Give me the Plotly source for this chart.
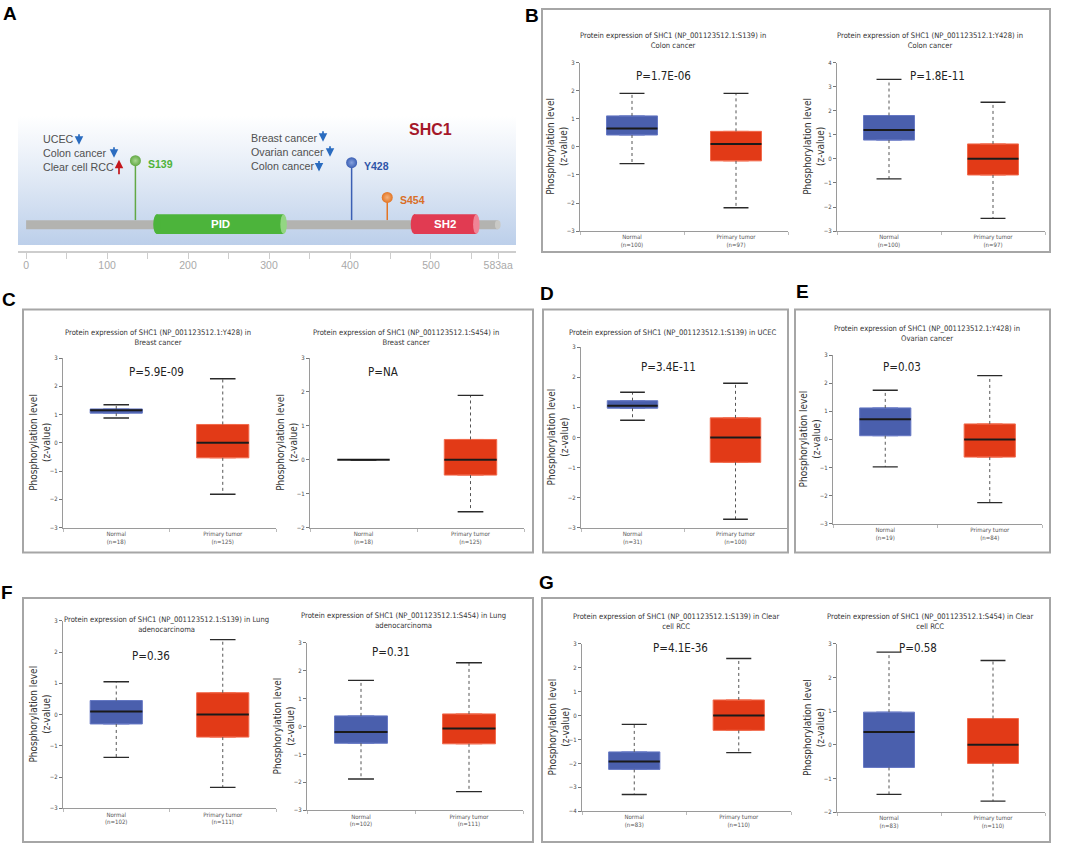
import plotly.graph_objects as go

W, H = 1072, 850

# ------------------------------------------------------------------ data
CATEGORIES = ["Normal", "Primary tumor"]

# panel A : SHC1 protein map
PROTEIN_NAME = "SHC1"
PROTEIN_LENGTH = 583
RULER_TICKS = [0, 50, 100, 150, 200, 250, 300, 350, 400, 450, 500, 550, 583]
RULER_LABELS = ["0", "", "100", "", "200", "", "300", "", "400", "", "500", "", "583aa"]
DOMAIN_NAMES = ["PID", "SH2"]
DOMAIN_START = [157, 475]
DOMAIN_END = [322, 560]
SITE_NAMES = ["S139", "Y428", "S454"]
SITE_POS = [135, 402, 446]
S139_CANCERS = ["UCEC", "Colon cancer", "Clear cell RCC"]
S139_DIRECTION = ["down", "down", "up"]
Y428_CANCERS = ["Breast cancer", "Ovarian cancer", "Colon cancer"]
Y428_DIRECTION = ["down", "down", "down"]

# box statistics: [lower whisker, Q1, median, Q3, upper whisker]
B1_TITLE = "Protein expression of SHC1 (NP_001123512.1:S139) in<br>Colon cancer"
B1_P = "P=1.7E-06"
B1_N = [100, 97]
B1_NORMAL = [-0.6, 0.42, 0.65, 1.1, 1.9]
B1_TUMOR = [-2.17, -0.5, 0.1, 0.55, 1.9]
B1_YRANGE = [-3, 3]

B2_TITLE = "Protein expression of SHC1 (NP_001123512.1:Y428) in<br>Colon cancer"
B2_P = "P=1.8E-11"
B2_N = [100, 97]
B2_NORMAL = [-0.83, 0.78, 1.2, 1.8, 3.3]
B2_TUMOR = [-2.47, -0.67, 0.0, 0.62, 2.35]
B2_YRANGE = [-3, 4]

C1_TITLE = "Protein expression of SHC1 (NP_001123512.1:Y428) in<br>Breast cancer"
C1_P = "P=5.9E-09"
C1_N = [18, 125]
C1_NORMAL = [0.88, 1.05, 1.15, 1.2, 1.35]
C1_TUMOR = [-1.82, -0.53, 0.0, 0.65, 2.27]
C1_YRANGE = [-3, 3]

C2_TITLE = "Protein expression of SHC1 (NP_001123512.1:S454) in<br>Breast cancer"
C2_P = "P=NA"
C2_N = [18, 125]
C2_NORMAL = [0.0, 0.0, 0.0, 0.0, 0.0]
C2_TUMOR = [-1.53, -0.45, 0.0, 0.6, 1.9]
C2_YRANGE = [-2, 3]

D_TITLE = "Protein expression of SHC1 (NP_001123512.1:S139) in UCEC"
D_P = "P=3.4E-11"
D_N = [31, 100]
D_NORMAL = [0.57, 0.97, 1.05, 1.22, 1.5]
D_TUMOR = [-2.72, -0.83, 0.0, 0.65, 1.8]
D_YRANGE = [-3, 3]

E_TITLE = "Protein expression of SHC1 (NP_001123512.1:Y428) in<br>Ovarian cancer"
E_P = "P=0.03"
E_N = [19, 84]
E_NORMAL = [-0.98, 0.13, 0.72, 1.12, 1.75]
E_TUMOR = [-2.25, -0.63, 0.0, 0.55, 2.27]
E_YRANGE = [-3, 3]

F1_TITLE = "Protein expression of SHC1 (NP_001123512.1:S139) in Lung<br>adenocarcinoma"
F1_P = "P=0.36"
F1_N = [102, 111]
F1_NORMAL = [-1.37, -0.3, 0.1, 0.45, 1.05]
F1_TUMOR = [-2.33, -0.72, 0.0, 0.7, 2.4]
F1_YRANGE = [-3, 3]

F2_TITLE = "Protein expression of SHC1 (NP_001123512.1:S454) in Lung<br>adenocarcinoma"
F2_P = "P=0.31"
F2_N = [102, 111]
F2_NORMAL = [-1.88, -0.6, -0.2, 0.38, 1.65]
F2_TUMOR = [-2.33, -0.62, -0.07, 0.45, 2.28]
F2_YRANGE = [-3, 3]

G1_TITLE = "Protein expression of SHC1 (NP_001123512.1:S139) in Clear<br>cell RCC"
G1_P = "P=4.1E-36"
G1_N = [83, 110]
G1_NORMAL = [-3.3, -2.25, -1.92, -1.52, -0.37]
G1_TUMOR = [-1.55, -0.62, 0.0, 0.65, 2.38]
G1_YRANGE = [-4, 3]

G2_TITLE = "Protein expression of SHC1 (NP_001123512.1:S454) in Clear<br>cell RCC"
G2_P = "P=0.58"
G2_N = [83, 110]
G2_NORMAL = [-1.47, -0.67, 0.38, 0.97, 2.75]
G2_TUMOR = [-1.67, -0.55, 0.0, 0.78, 2.5]
G2_YRANGE = [-2, 3]

# ------------------------------------------------------------------ style / layout
NARROW = "Liberation Sans Narrow, DejaVu Sans Condensed, Arial Narrow, sans-serif"
SANS = "Liberation Sans, Arial, sans-serif"
BLUE_FILL, BLUE_LINE = "#4a5fad", "#6678c4"
RED_FILL, RED_LINE = "#e23a17", "#f26a4c"
FRAME = "#a6a6a6"


def fx(px):
    return px / W


def fy(py):
    return 1 - py / H


# layout in pixels: axis x0, x1, y top tick, y bottom tick, title centre, p-value centre
PANELS = [
    dict(title=B1_TITLE, p=B1_P, n=B1_N, normal=B1_NORMAL, tumor=B1_TUMOR, yr=B1_YRANGE,
         x0=580, x1=788, yt=59, yb=229, tc=(673, 37), pc=(663, 73)),
    dict(title=B2_TITLE, p=B2_P, n=B2_N, normal=B2_NORMAL, tumor=B2_TUMOR, yr=B2_YRANGE,
         x0=837, x1=1045, yt=59, yb=229, tc=(930, 37), pc=(937, 73)),
    dict(title=C1_TITLE, p=C1_P, n=C1_N, normal=C1_NORMAL, tumor=C1_TUMOR, yr=C1_YRANGE,
         x0=63, x1=276, yt=357, yb=528, tc=(158, 336.5), pc=(156, 371)),
    dict(title=C2_TITLE, p=C2_P, n=C2_N, normal=C2_NORMAL, tumor=C2_TUMOR, yr=C2_YRANGE,
         x0=310, x1=524, yt=357, yb=528, tc=(406, 336.5), pc=(383, 371)),
    dict(title=D_TITLE, p=D_P, n=D_N, normal=D_NORMAL, tumor=D_TUMOR, yr=D_YRANGE,
         x0=581, x1=787, yt=346, yb=528, tc=(673, 331), pc=(668, 366)),
    dict(title=E_TITLE, p=E_P, n=E_N, normal=E_NORMAL, tumor=E_TUMOR, yr=E_YRANGE,
         x0=833, x1=1042, yt=354, yb=524, tc=(927, 332.5), pc=(902, 366)),
    dict(title=F1_TITLE, p=F1_P, n=F1_N, normal=F1_NORMAL, tumor=F1_TUMOR, yr=F1_YRANGE,
         x0=63, x1=276, yt=622, yb=811, tc=(166, 625.5), pc=(151, 657)),
    dict(title=F2_TITLE, p=F2_P, n=F2_N, normal=F2_NORMAL, tumor=F2_TUMOR, yr=F2_YRANGE,
         x0=307, x1=523, yt=644, yb=813, tc=(403, 621.5), pc=(391, 653)),
    dict(title=G1_TITLE, p=G1_P, n=G1_N, normal=G1_NORMAL, tumor=G1_TUMOR, yr=G1_YRANGE,
         x0=582, x1=791, yt=645, yb=814, tc=(676, 622.5), pc=(680, 649)),
    dict(title=G2_TITLE, p=G2_P, n=G2_N, normal=G2_NORMAL, tumor=G2_TUMOR, yr=G2_YRANGE,
         x0=837, x1=1045, yt=645, yb=815, tc=(930, 622.5), pc=(918, 649)),
]

FRAMES = [(542, 5, 1050, 250), (23, 308, 533, 553), (543, 308, 788, 553),
          (795, 308, 1050, 553), (23, 599, 533, 845), (542, 599, 1050, 845)]
LETTERS = [("A", 10, 10), ("B", 532, 12), ("C", 9, 298), ("D", 547, 292),
           ("E", 802, 290), ("F", 7, 593), ("G", 546, 583)]
# arrow glyph positions (px): x, top, bottom  -- one per cancer label
S139_ARROW_PX = [(79, 130, 142), (114, 143, 155), (119, 157, 173)]
Y428_ARROW_PX = [(323, 127, 139), (330, 142, 154), (319, 157, 169)]

fig = go.Figure()
layout = dict(width=W, height=H, margin=dict(l=0, r=0, t=0, b=0),
              paper_bgcolor="white", plot_bgcolor="rgba(0,0,0,0)",
              showlegend=False)
annotations = []
shapes = []


def ann(x, y, text, size, color, family=NARROW, **kw):
    d = dict(x=fx(x), y=fy(y), xref="paper", yref="paper", text=text, showarrow=False,
             xanchor="center", yanchor="middle",
             font=dict(family=family, size=size, color=color))
    d.update(kw)
    annotations.append(d)


# ------------------------------------------------------------------ panel A
layout["xaxis"] = dict(domain=[fx(18), fx(516)], range=[-10, 605], anchor="y",
                       showline=True, linecolor="#cdcdcd", linewidth=2,
                       ticks="outside", ticklen=6, tickwidth=1, tickcolor="#cdcdcd",
                       tickvals=RULER_TICKS, ticktext=RULER_LABELS,
                       ticklabelstandoff=-3,
                       tickfont=dict(family=SANS, size=10.5, color="#a9a9a9"),
                       showgrid=False, zeroline=False, fixedrange=True)
layout["yaxis"] = dict(domain=[fy(249), fy(113)], range=[0, 136], anchor="x",
                       visible=False, fixedrange=True)

# gradient background
fig.add_trace(go.Scatter(x=[-10, 605, 605, -10, -10], y=[6, 6, 136, 136, 6],
                         mode="lines", line=dict(width=0), fill="toself",
                         fillgradient=dict(type="vertical",
                                           colorscale=[[0, "#bccfea"], [0.55, "#e3ebf6"], [1, "#ffffff"]]),
                         hoverinfo="skip", xaxis="x", yaxis="y"))

# backbone
shapes.append(dict(type="rect", xref="x", yref="y", x0=0, x1=PROTEIN_LENGTH, y0=22, y1=31,
                   fillcolor="#b3b3b0", line=dict(width=0), layer="above"))
shapes.append(dict(type="circle", xref="x", yref="y", x0=PROTEIN_LENGTH - 4, x1=PROTEIN_LENGTH + 3,
                   y0=22, y1=31, fillcolor="#c9c9c6", line=dict(width=0), layer="above"))

DOMAIN_COLORS = [("#4cb43b", "#93d683"), ("#e13b52", "#f08496")]
for name, s, e, (c, cl) in zip(DOMAIN_NAMES, DOMAIN_START, DOMAIN_END, DOMAIN_COLORS):
    shapes.append(dict(type="rect", xref="x", yref="y", x0=s + 4, x1=e - 4, y0=17, y1=37,
                       fillcolor=c, line=dict(width=0), layer="above"))
    shapes.append(dict(type="circle", xref="x", yref="y", x0=s, x1=s + 9, y0=17, y1=37,
                       fillcolor=c, line=dict(width=0), layer="above"))
    shapes.append(dict(type="circle", xref="x", yref="y", x0=e - 8, x1=e, y0=17, y1=37,
                       fillcolor=cl, line=dict(width=0), layer="above"))
    annotations.append(dict(x=(s + e) / 2, y=27, xref="x", yref="y", text="<b>%s</b>" % name,
                            showarrow=False, xanchor="center", yanchor="middle",
                            font=dict(family=SANS, size=11.5, color="white")))

SITE_HEAD = [91, 89, 54]
SITE_COLORS = [("#62a845", "#a9d890", "#4fb339"), ("#3b5fb4", "#86a2de", "#2f55a8"),
               ("#e37524", "#f5b27c", "#d96f28")]
for name, pos, hy, (c, cc, tc) in zip(SITE_NAMES, SITE_POS, SITE_HEAD, SITE_COLORS):
    fig.add_trace(go.Scatter(x=[pos, pos], y=[31, hy], mode="lines",
                             line=dict(color=c, width=1.5), hoverinfo="skip",
                             xaxis="x", yaxis="y"))
    fig.add_trace(go.Scatter(x=[pos], y=[hy], mode="markers",
                             marker=dict(size=11, color=c, line=dict(width=0),
                                         gradient=dict(type="radial", color=cc)),
                             hoverinfo="skip", xaxis="x", yaxis="y"))
    annotations.append(dict(x=pos + 13, y=hy - 3, xref="x", yref="y", xanchor="left",
                            yanchor="middle", text="<b>%s</b>" % name, showarrow=False,
                            font=dict(family=SANS, size=10.5, color=tc)))

ARROW_COLOR = {"down": "#2a6cc0", "up": "#c4161c"}
for names, dirs, arrows, x0, ytop in ((S139_CANCERS, S139_DIRECTION, S139_ARROW_PX, 18.5, 113),
                                      (Y428_CANCERS, Y428_DIRECTION, Y428_ARROW_PX, 275.5, 114)):
    for i, (txt, d, (axp, at, ab)) in enumerate(zip(names, dirs, arrows)):
        annotations.append(dict(x=x0, y=ytop - 14 * i, xref="x", yref="y", xanchor="left",
                                yanchor="middle", text=txt, showarrow=False,
                                font=dict(family=SANS, size=10.7, color="#505050")))
        if d == "down":
            hx, hy_, tail = axp, ab, -(ab - at)
        else:
            hx, hy_, tail = axp, at, (ab - at)
        annotations.append(dict(x=fx(hx), y=fy(hy_), xref="paper", yref="paper", text="",
                                showarrow=True, ax=0, ay=tail, arrowhead=2, arrowsize=1,
                                arrowwidth=1.7, arrowcolor=ARROW_COLOR[d], standoff=0,
                                startstandoff=0))
annotations.append(dict(x=499, y=122, xref="x", yref="y", text="<b>%s</b>" % PROTEIN_NAME,
                        showarrow=False, xanchor="center", yanchor="middle",
                        font=dict(family=SANS, size=16, color="#a5182a")))

# ------------------------------------------------------------------ box panels
for k, P in enumerate(PANELS):
    i = k + 2
    xa, ya = "x%d" % i, "y%d" % i
    layout["xaxis%d" % i] = dict(
        domain=[fx(P["x0"]), fx(P["x1"])], range=[-0.5, 1.5], anchor=ya,
        showline=True, linecolor="#9a9a9a", linewidth=1,
        tickvals=[0, 1],
        ticktext=["%s<br>(n=%d)" % (c, n) for c, n in zip(CATEGORIES, P["n"])],
        ticks="", tickfont=dict(family=NARROW, size=6, color="#555"),
        minor=dict(tickvals=[-0.5, 0.5, 1.5], ticks="outside", ticklen=3,
                   tickcolor="#bbbbbb", showgrid=False),
        showgrid=False, zeroline=False, fixedrange=True)
    lo, hi = P["yr"]
    layout["yaxis%d" % i] = dict(
        domain=[fy(P["yb"]), fy(P["yt"])], range=[lo, hi], anchor=xa,
        showline=True, linecolor="#9a9a9a", linewidth=1,
        tickvals=list(range(lo, hi + 1)), ticks="outside", ticklen=3,
        tickcolor="#777", tickfont=dict(family=NARROW, size=6, color="#444"),
        showgrid=False, zeroline=False, fixedrange=True)

    wx, wy, cx, cy, mx, my = [], [], [], [], [], []
    for xpos, st in ((0, P["normal"]), (1, P["tumor"])):
        lw, q1, med, q3, uw = st
        wx += [xpos, xpos, None, xpos, xpos, None]
        wy += [q3, uw, None, q1, lw, None]
        cx += [xpos - 0.12, xpos + 0.12, None, xpos - 0.12, xpos + 0.12, None]
        cy += [uw, uw, None, lw, lw, None]
        mx += [xpos - 0.245, xpos + 0.245, None]
        my += [med, med, None]
    fig.add_trace(go.Scatter(x=wx, y=wy, mode="lines", line=dict(color="#555", width=1, dash="dot"),
                             hoverinfo="skip", xaxis=xa, yaxis=ya))
    fig.add_trace(go.Scatter(x=cx, y=cy, mode="lines", line=dict(color="#2a2a2a", width=1.4),
                             hoverinfo="skip", xaxis=xa, yaxis=ya))
    for xpos, st, fc, lc in ((0, P["normal"], BLUE_FILL, BLUE_LINE), (1, P["tumor"], RED_FILL, RED_LINE)):
        lw, q1, med, q3, uw = st
        if q3 > q1:
            fig.add_trace(go.Box(x=[xpos], q1=[q1], median=[med], q3=[q3],
                                 lowerfence=[q1], upperfence=[q3], width=0.49,
                                 fillcolor=fc, line=dict(color=lc, width=1),
                                 boxpoints=False, hoverinfo="skip", xaxis=xa, yaxis=ya))
    fig.add_trace(go.Scatter(x=mx, y=my, mode="lines", line=dict(color="#1a1a1a", width=2),
                             hoverinfo="skip", xaxis=xa, yaxis=ya))

    ann(P["tc"][0], P["tc"][1], P["title"], 7.6, "#333", align="center")
    ann(P["pc"][0], P["pc"][1], P["p"], 11.5, "#222")
    ann(P["x0"] - 23, (P["yt"] + P["yb"]) / 2, "Phosphorylation level<br>(z-value)", 10, "#333",
        textangle=-90)

for (x0, y0, x1, y1) in FRAMES:
    shapes.append(dict(type="rect", xref="paper", yref="paper", x0=fx(x0), x1=fx(x1),
                       y0=fy(y1), y1=fy(y0), line=dict(color=FRAME, width=2),
                       fillcolor="rgba(0,0,0,0)"))
for (t, x, y) in LETTERS:
    ann(x, y, "<b>%s</b>" % t, 19, "black", family=SANS)

layout["annotations"] = annotations
layout["shapes"] = shapes
fig.update_layout(**layout)
fig.write_html("out.html", config={"displayModeBar": False},
               post_script="document.body.style.margin='0px';")
